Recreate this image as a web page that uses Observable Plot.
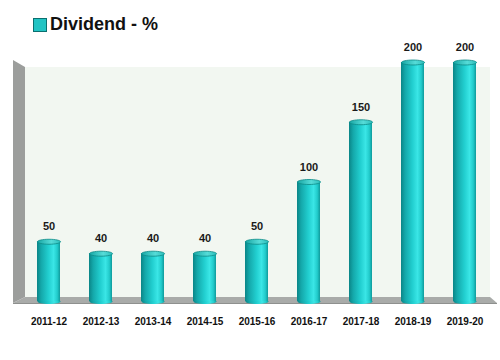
<!DOCTYPE html>
<html>
<head>
<meta charset="utf-8">
<script src="https://cdn.jsdelivr.net/npm/d3@7"></script>
<script src="https://cdn.jsdelivr.net/npm/@observablehq/plot@0.6"></script>
<style>
  body { margin: 0; background: #ffffff; font-family: "Liberation Sans", Arial, sans-serif; }
  #wrap { width: 500px; height: 360px; position: relative; overflow: hidden; }
  #legend { position: absolute; left: 0; top: 0; width: 300px; height: 40px; z-index: 2; }
  #legend .sw { position: absolute; left: 33px; top: 18px; width: 12px; height: 12px; background: #22c4c4; border: 1px solid #0b6f6f; }
  #legend .lb { position: absolute; left: 50px; top: 13px; font-size: 18px; font-weight: bold; color: #111; line-height: 22px; white-space: nowrap; }
  #chart svg { display: block; }
</style>
</head>
<body>
<div id="wrap">
  <div id="chart"></div>
  <div id="legend"><span class="sw"></span><span class="lb">Dividend - %</span></div>
</div>
<script>
const years = ["2011-12","2012-13","2013-14","2014-15","2015-16","2016-17","2017-18","2018-19","2019-20"];
const dividend = [50, 40, 40, 40, 50, 100, 150, 200, 200];
const seriesName = "Dividend - %";

const data = years.map((year, i) => ({year, value: dividend[i]}));

const W = 500, H = 360, mL = 20, mR = 7, mT = 62, mB = 59;
const padIn = 0.56, padOut = 0.29;
const step = (W - mL - mR) / (years.length - padIn + 2 * padOut);
const rx = step * (1 - padIn) / 2, ry = 2.5;
const k = 0.5523;
const ellipse = {
  draw(ctx) {
    ctx.moveTo(rx, 0);
    ctx.bezierCurveTo(rx, ry * k, rx * k, ry, 0, ry);
    ctx.bezierCurveTo(-rx * k, ry, -rx, ry * k, -rx, 0);
    ctx.bezierCurveTo(-rx, -ry * k, -rx * k, -ry, 0, -ry);
    ctx.bezierCurveTo(rx * k, -ry, rx, -ry * k, rx, 0);
    ctx.closePath();
  }
};

const plot = Plot.plot({
  width: W, height: H,
  marginLeft: mL, marginRight: mR, marginTop: mT, marginBottom: mB,
  style: {fontFamily: "Liberation Sans, Arial, sans-serif", fontSize: "10px", fontWeight: "bold", color: "#111", background: "transparent"},
  x: {domain: years, paddingInner: padIn, paddingOuter: padOut, tickSize: 0, tickPadding: 16, label: null},
  y: {domain: [0, 200], axis: null},
  marks: [
    Plot.dot(data, {x: "year", y: () => 0, symbol: ellipse, fill: "url(#cylGrad)", stroke: "none"}),
    Plot.barY(data, {x: "year", y: "value", fill: "url(#cylGrad)"}),
    Plot.dot(data, {x: "year", y: "value", symbol: ellipse, fill: "url(#topGrad)", stroke: "#0d8a86", strokeWidth: 0.8}),
    Plot.text(data, {x: "year", y: "value", text: d => String(d.value), dy: -15, fontSize: 11, fontWeight: "bold", fill: "#1a1a1a"})
  ]
});

const svg = d3.select(plot);
const defs = svg.insert("defs", ":first-child");
const g1 = defs.append("linearGradient").attr("id", "cylGrad").attr("x1", 0).attr("x2", 1).attr("y1", 0).attr("y2", 0);
[[0, "#0a8587"], [0.18, "#14a8aa"], [0.5, "#22cfd0"], [0.72, "#3ae6e6"], [0.88, "#22cccc"], [1, "#0f9a9b"]]
  .forEach(([o, c]) => g1.append("stop").attr("offset", o).attr("stop-color", c));
const g2 = defs.append("linearGradient").attr("id", "topGrad").attr("x1", 0).attr("x2", 1).attr("y1", 0).attr("y2", 0);
[[0, "#18a7a5"], [0.6, "#56dcd8"], [1, "#2bbdbb"]]
  .forEach(([o, c]) => g2.append("stop").attr("offset", o).attr("stop-color", c));

// 3D walls, positioned from the Plot scales
const ys = plot.scale("y");
const y0 = ys.apply(0), yTop = ys.apply(200);
const xl = mL - 7, xlIn = mL + 5, xr = W - mR - 3, xrOut = W - 3;
const floorTop = y0 - 4, floorBot = y0 + 2;
const walls = svg.insert("g", "g");
walls.append("rect").attr("x", xlIn).attr("y", yTop + 5).attr("width", xr - xlIn).attr("height", floorTop - (yTop + 5)).attr("fill", "#f2f7f1");
walls.append("polygon").attr("points", [[xl, yTop - 2], [xlIn, yTop + 5], [xlIn, floorTop], [xl, floorBot]].join(" ")).attr("fill", "#9c9e9c");
walls.append("polygon").attr("points", [[xl, floorBot], [xlIn, floorTop], [xr, floorTop], [xrOut, floorBot]].join(" ")).attr("fill", "#a9aba9");
walls.append("line").attr("x1", xl).attr("x2", xrOut).attr("y1", floorBot + 0.5).attr("y2", floorBot + 0.5).attr("stroke", "#8e908e").attr("stroke-width", 1);

document.getElementById("chart").appendChild(plot);
</script>
</body>
</html>
